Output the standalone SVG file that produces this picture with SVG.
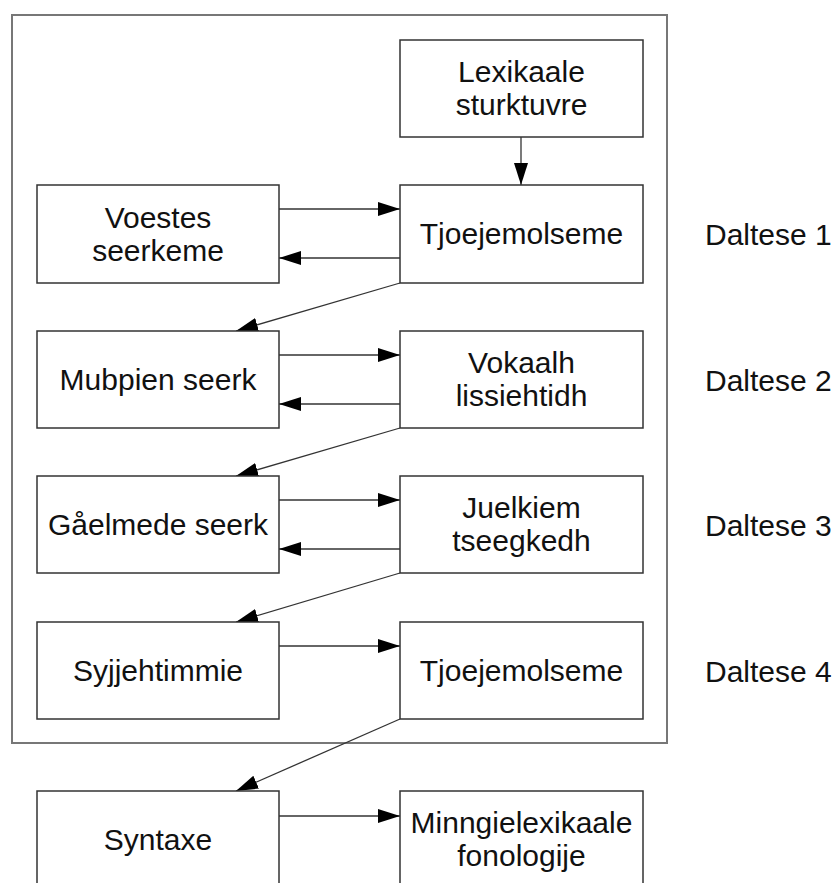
<svg xmlns="http://www.w3.org/2000/svg" width="835" height="883" viewBox="0 0 835 883">
<style>
.box{fill:#fff;stroke:#333;stroke-width:1.5}
.frame{fill:none;stroke:#777;stroke-width:2}
.t{font-family:"Liberation Sans",Arial,sans-serif;font-size:30px;fill:#111;text-anchor:middle}
.lbl{font-family:"Liberation Sans",Arial,sans-serif;font-size:30px;fill:#111}
.c{stroke:#333;stroke-width:1.3;fill:none;marker-end:url(#ah)}
</style>
<defs>
<marker id="ah" markerUnits="userSpaceOnUse" markerWidth="22" markerHeight="14" refX="22" refY="7" orient="auto">
<path d="M0,0 L22,7 L0,14 z" fill="#000"/>
</marker>
</defs>
<rect width="835" height="883" fill="#fff"/>
<rect id="frame" class="frame" x="12" y="15" width="655" height="728"/>
<g id="connectors">
<line class="c" x1="521" y1="137" x2="521" y2="185"/>
<line class="c" x1="279" y1="209" x2="400" y2="209"/>
<line class="c" x1="400" y1="258" x2="279" y2="258"/>
<line class="c" x1="400" y1="283" x2="236" y2="331"/>
<line class="c" x1="279" y1="355" x2="400" y2="355"/>
<line class="c" x1="400" y1="404" x2="279" y2="404"/>
<line class="c" x1="400" y1="428" x2="236" y2="476"/>
<line class="c" x1="279" y1="500" x2="400" y2="500"/>
<line class="c" x1="400" y1="549" x2="279" y2="549"/>
<line class="c" x1="400" y1="573" x2="236" y2="622"/>
<line class="c" x1="279" y1="646" x2="400" y2="646"/>
<line class="c" x1="400" y1="719" x2="236" y2="791"/>
<line class="c" x1="279" y1="816" x2="400" y2="816"/>
</g>
<g id="lexikaale"><rect class="box" x="400" y="40" width="243" height="97"/><text class="t" x="521.5" y="82">Lexikaale</text><text class="t" x="521.5" y="115">sturktuvre</text></g>
<g id="voestes"><rect class="box" x="37" y="185" width="242" height="98"/><text class="t" x="158" y="228">Voestes</text><text class="t" x="158" y="261">seerkeme</text></g>
<g id="tjoe1"><rect class="box" x="400" y="185" width="243" height="98"/><text class="t" x="521.5" y="244">Tjoejemolseme</text></g>
<g id="mubpien"><rect class="box" x="37" y="331" width="242" height="97"/><text class="t" x="158" y="390">Mubpien seerk</text></g>
<g id="vokaalh"><rect class="box" x="400" y="331" width="243" height="97"/><text class="t" x="521.5" y="373">Vokaalh</text><text class="t" x="521.5" y="406">lissiehtidh</text></g>
<g id="gaelmede"><rect class="box" x="37" y="476" width="242" height="97"/><text class="t" x="158" y="535">Gåelmede seerk</text></g>
<g id="juelkiem"><rect class="box" x="400" y="476" width="243" height="97"/><text class="t" x="521.5" y="518">Juelkiem</text><text class="t" x="521.5" y="551">tseegkedh</text></g>
<g id="syjjehtimmie"><rect class="box" x="37" y="622" width="242" height="97"/><text class="t" x="158" y="681">Syjjehtimmie</text></g>
<g id="tjoe4"><rect class="box" x="400" y="622" width="243" height="97"/><text class="t" x="521.5" y="681">Tjoejemolseme</text></g>
<g id="syntaxe"><rect class="box" x="37" y="791" width="242" height="110"/><text class="t" x="158" y="850">Syntaxe</text></g>
<g id="minngie"><rect class="box" x="400" y="791" width="243" height="110"/><text class="t" x="521.5" y="833">Minngielexikaale</text><text class="t" x="521.5" y="866">fonologije</text></g>
<g id="labels">
<text class="lbl" x="705" y="245">Daltese 1</text>
<text class="lbl" x="705" y="391">Daltese 2</text>
<text class="lbl" x="705" y="536">Daltese 3</text>
<text class="lbl" x="705" y="682">Daltese 4</text>
</g>
</svg>
